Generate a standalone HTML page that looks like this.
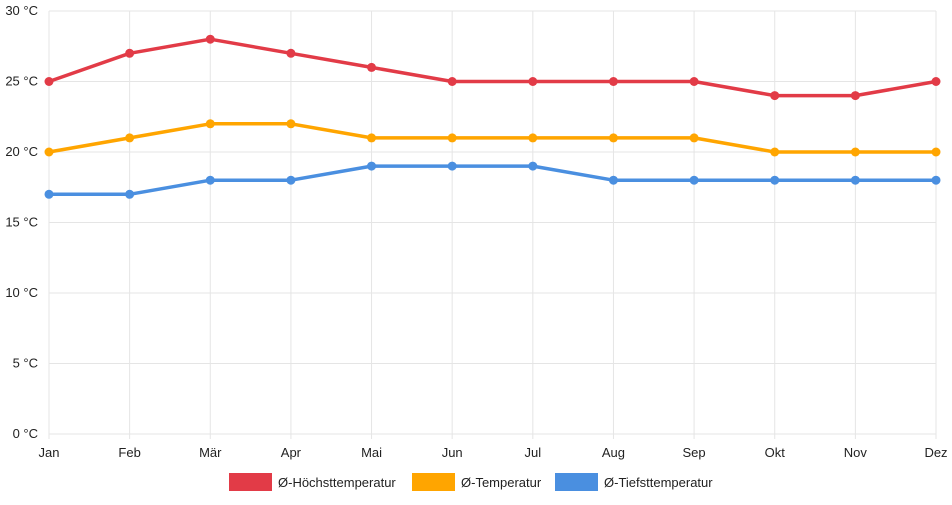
<!DOCTYPE html>
<html><head><meta charset="utf-8"><style>
body{margin:0;background:#fff;font-family:"Liberation Sans",sans-serif}
svg text{font-family:"Liberation Sans",sans-serif;font-size:13px;fill:#222}
</style></head><body>
<svg id="c" width="952" height="500"></svg>
<script>
const months=["Jan","Feb","Mär","Apr","Mai","Jun","Jul","Aug","Sep","Okt","Nov","Dez"];
const maxTemp=[25,27,28,27,26,25,25,25,25,24,24,25];
const avgTemp=[20,21,22,22,21,21,21,21,21,20,20,20];
const minTemp=[17,17,18,18,19,19,19,18,18,18,18,18];
const yTicks=[0,5,10,15,20,25,30];
const seriesNames=["Ø-Höchsttemperatur","Ø-Temperatur","Ø-Tiefsttemperatur"];
const colors=["#e23b47","#ffa500","#4a8fe0"];
const L=49,R=936,T=11,B=434;
const x=i=>L+i*(R-L)/(months.length-1);
const y=v=>B-(v-0)/(30-0)*(B-T);
const svg=document.getElementById('c');
const NS="http://www.w3.org/2000/svg";
function mk(t,a,p){const e=document.createElementNS(NS,t);for(const k in a)e.setAttribute(k,a[k]);(p||svg).appendChild(e);return e;}
yTicks.forEach(v=>{
 const g=mk('line',{x1:L,x2:R,y1:y(v),y2:y(v),stroke:"#e5e5e5","stroke-width":1});
 
 
 const t=mk('text',{x:38,y:y(v)+4,"text-anchor":"end"});t.textContent=v+" °C";
 
 
});
months.forEach((m,i)=>{
 const g=mk('line',{x1:x(i),x2:x(i),y1:T,y2:B+5,stroke:"#e5e5e5","stroke-width":1});
 
 
 const t=mk('text',{x:x(i),y:457,"text-anchor":"middle"});t.textContent=m;
 
 
});
[maxTemp,avgTemp,minTemp].forEach((s,k)=>{
 const p=mk('polyline',{points:s.map((v,i)=>x(i)+","+y(v)).join(" "),fill:"none",stroke:colors[k],"stroke-width":3.5,"stroke-linejoin":"round"});
 
 
 s.forEach((v,i)=>{
  const c=mk('circle',{cx:x(i),cy:y(v),r:4.5,fill:colors[k]});
  
  
 });
});
const lx=[229,412,555];
seriesNames.forEach((n,k)=>{
 const r=mk('rect',{x:lx[k],y:473,width:43,height:18,fill:colors[k]});
 
 
 const t=mk('text',{x:lx[k]+49,y:487});t.textContent=n;
 
 
});
</script>
</body></html>
